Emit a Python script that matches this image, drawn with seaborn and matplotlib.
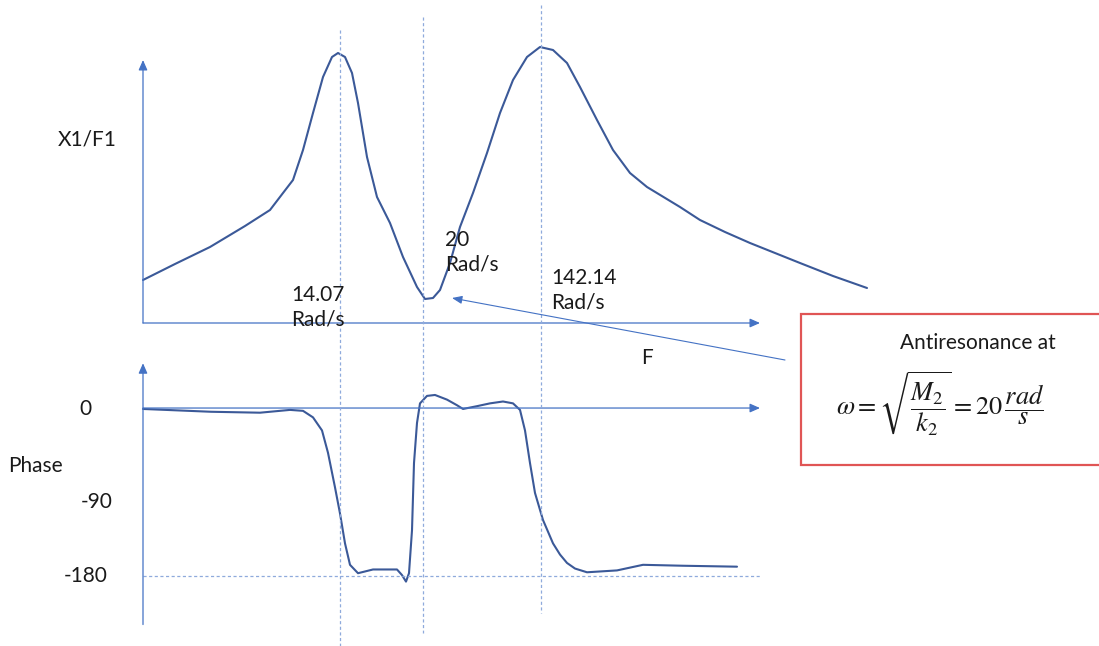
import numpy as np
import pandas as pd
import matplotlib
matplotlib.use("Agg")
import matplotlib.pyplot as plt
from matplotlib.patches import Rectangle
import seaborn as sns

# ---------------- data (schematic units) ----------------
# magnitude |X1/F1| (arbitrary units) vs frequency (arbitrary units)
mag_x = [0, 32, 67, 102, 127, 140, 150, 160, 170, 180, 189, 195, 202, 209, 215,
         224, 234, 247, 260, 274, 282, 290, 297, 307, 317, 330, 344, 357, 370,
         384, 397, 410, 424, 437, 454, 470, 487, 504, 537, 557, 582, 607, 632,
         657, 690, 724]
mag_y = [43, 59, 76, 97, 113, 130, 143, 173, 210, 246, 266, 270, 266, 250, 220,
         166, 126, 100, 66, 36, 24, 25, 33, 60, 96, 130, 170, 210, 243,
         266, 276, 273, 260, 236, 203, 173, 150, 136, 116, 103, 91, 80, 70,
         60, 47, 35]

# phase (degrees) vs frequency
ph_x = [0, 68, 117, 137, 147, 160, 170, 179, 185, 192, 197, 202, 207, 215, 230,
        254, 259, 263, 266, 269, 271, 274, 277, 284, 292, 304, 314, 320, 334,
        347, 360, 370, 377, 382, 387, 392, 400, 410, 417, 424, 432, 444, 474,
        500, 540, 594]
ph_y = [-1, -4, -5, -3, -2, -3, -10, -24, -48, -85, -113, -145, -168, -177, -173,
        -173, -179, -186, -177, -131, -59, -16, 5, 13, 14, 9, 3, -1, 2,
        5, 7, 5, -2, -24, -59, -91, -120, -145, -157, -166, -172, -176, -174,
        -168, -169, -170]

# characteristic frequencies (positions on the frequency axis) and their labels
res_x = [197, 280, 398]
res_labels = ["14.07\nRad/s", "20\nRad/s", "142.14\nRad/s"]
phase_ticks = ["0", "-90", "-180"]

mag_df = pd.DataFrame({"f": mag_x, "amp": mag_y})
ph_df = pd.DataFrame({"f": ph_x, "phase": ph_y})

# ---------------- styling ----------------
sns.set_theme(style="white")
plt.rcParams["font.family"] = ["Lato", "DejaVu Sans"]
plt.rcParams["mathtext.fontset"] = "stix"

CURVE = "#3B5998"
AXIS = "#4472C4"
DASH = "#8FAADC"
TXT = "#1a1a1a"
FS = 15

W, H = 1099, 646
fig = plt.figure(figsize=(W / 100, H / 100), dpi=100)
fig.patch.set_facecolor("white")

XL = (-143, 956)
top = fig.add_axes([0, 306 / H, 1, 340 / H])
bot = fig.add_axes([0, 0, 1, 306 / H])
ov = fig.add_axes([0, 0, 1, 1])
for a in (top, bot, ov):
    a.set_xlim(*XL)
    a.axis("off")
    a.patch.set_alpha(0)
ov.set_ylim(H, 0)

# ---------------- curves ----------------
sns.lineplot(data=mag_df, x="f", y="amp", ax=top, color=CURVE, lw=1.5, sort=False,
             estimator=None)
sns.lineplot(data=ph_df, x="f", y="phase", ax=bot, color=CURVE, lw=1.5, sort=False,
             estimator=None)
for a in (top, bot):
    a.set_xlim(*XL)
    a.axis("off")
top.set_ylim(-17, 323)
bot.set_ylim(-255, 72.9)

# ---------------- axes arrows ----------------
arrow_kw = dict(arrowstyle="-|>,head_length=0.5,head_width=0.22", color=AXIS, lw=0.9,
                shrinkA=0, shrinkB=0)
top.annotate("", xy=(0, 263), xytext=(0, 0), arrowprops=arrow_kw)
top.annotate("", xy=(617, 0), xytext=(0, 0), arrowprops=arrow_kw)
bot.annotate("", xy=(0, 48), xytext=(0, -232), arrowprops=arrow_kw)
bot.annotate("", xy=(617, 0), xytext=(0, 0), arrowprops=arrow_kw)
bot.plot([0, 617], [-180, -180], color=DASH, lw=0.9, ls=(0, (2.5, 2)))

# ---------------- vertical dashed marker lines ----------------
v_top = [30, 17, 5]
v_bot = [646, 633, 613]
for xv, t0, b0 in zip(res_x, v_top, v_bot):
    ov.plot([xv, xv], [t0, b0], color=DASH, lw=0.9, ls=(0, (2.5, 2)))

# ---------------- texts ----------------
ov.text(-85, 140, "X1/F1", fontsize=FS, color=TXT, ha="left", va="center")
lab_pos = [(148, 307), (302, 252), (408, 290)]
for (lx, ly), lab in zip(lab_pos, res_labels):
    ov.text(lx, ly, lab, fontsize=FS, color=TXT, ha="left", va="center", linespacing=1.3)
ov.text(504, 358, "F", fontsize=FS, color=TXT, ha="center", va="center")
ov.text(-58, 409, phase_ticks[0], fontsize=FS, color=TXT, ha="center", va="center")
ov.text(-135, 466, "Phase", fontsize=FS, color=TXT, ha="left", va="center")
ov.text(-30, 502, phase_ticks[1], fontsize=FS, color=TXT, ha="right", va="center")
ov.text(-35, 576, phase_ticks[2], fontsize=FS, color=TXT, ha="right", va="center")

# pointer from the box to the anti-resonance
ov.annotate("", xy=(309, 298), xytext=(642, 360),
            arrowprops=dict(arrowstyle="-|>,head_length=0.5,head_width=0.2", color=AXIS,
                            lw=0.8, shrinkA=0, shrinkB=0))

# red box with formula
ov.add_patch(Rectangle((658, 314), 460, 151, facecolor="white", edgecolor="#E05555",
                       lw=1.6, zorder=3))
ov.text(835, 343, "Antiresonance at", fontsize=FS, color=TXT, ha="center", va="center",
        zorder=4)
ov.text(693, 403, r"$\omega = \sqrt{\dfrac{M_2}{k_2}} = 20\,\dfrac{rad}{s}$",
        fontsize=19, color=TXT, ha="left", va="center", zorder=4)

fig.savefig("out.png", dpi=100, facecolor="white")
